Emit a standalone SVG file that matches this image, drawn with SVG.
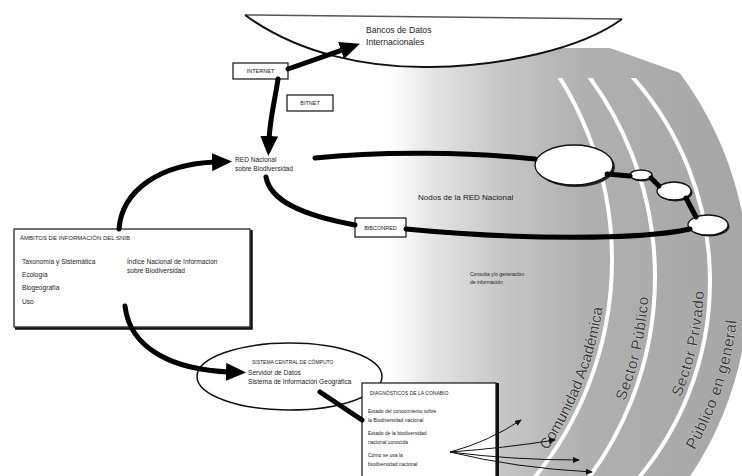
<svg xmlns="http://www.w3.org/2000/svg" width="742" height="476" viewBox="0 0 742 476">
<style>
  text { font-family: "Liberation Sans", Arial, sans-serif; fill: #1a1a1a; }
  .sm { font-size: 6.6px; }
  .xs { font-size: 5px; }
  .cap { font-size: 6px; }
  .lbl { font-size: 5.5px; text-anchor: middle; }
  .big { font-size: 8.6px; }
  .mid { font-size: 8px; }
  .arc { font-size: 15px; fill: #3c3c3c; stroke: #e8e8e8; stroke-width: 0.6px; paint-order: stroke; }
  .thick { fill: none; stroke: #000; stroke-width: 5; stroke-linecap: round; }
  .thin { fill: none; stroke: #111; stroke-width: 1; }
  .box { fill: #fff; stroke: #111; stroke-width: 1.2; }
  .node { fill: #fff; stroke: #111; stroke-width: 1.3; }
  .shadow { fill: #222; }
  .sep { fill: none; stroke: #fff; stroke-width: 4; }
</style>
<defs>
  <linearGradient id="gray" gradientUnits="userSpaceOnUse" x1="390" y1="0" x2="742" y2="0">
    <stop offset="0" stop-color="#ffffff"/>
    <stop offset="0.12" stop-color="#e4e4e4"/>
    <stop offset="0.32" stop-color="#c6c6c6"/>
    <stop offset="0.55" stop-color="#b0b0b0"/>
    <stop offset="1" stop-color="#a6a6a6"/>
  </linearGradient>
  <clipPath id="grayClip">
    <path d="M385,476 L385,48 L610,48 L742,95 L742,476 Z"/>
  </clipPath>
  <clipPath id="sepClip">
    <path d="M385,476 L385,78 L742,78 L742,476 Z"/>
  </clipPath>
  <marker id="ah" markerUnits="userSpaceOnUse" markerWidth="20" markerHeight="18" viewBox="0 0 20 18" refX="4" refY="9" orient="auto-start-reverse">
    <path d="M0,0 L20,9 L0,18 Z" fill="#000"/>
  </marker>
  <marker id="sa" markerUnits="userSpaceOnUse" markerWidth="7" markerHeight="6" viewBox="0 0 7 6" refX="6" refY="3" orient="auto">
    <path d="M0,0 L7,3 L0,6 Z" fill="#111"/>
  </marker>
  <path id="p1" d="M541.4,458.7 A338,338 0 0 0 604.7,230.5"/>
  <path id="p2" d="M618,416.9 A331,331 0 0 0 647.7,248.2"/>
  <path id="p3" d="M675.8,408.2 A301,301 0 0 0 702.9,254.8"/>
  <path id="p4" d="M687.3,462.2 A340,340 0 0 0 738.5,264.2"/>
</defs>

<!-- background shading (sectors) -->
<g id="sectors">
  <g clip-path="url(#grayClip)">
    <circle cx="399" cy="282" r="350" fill="url(#gray)"/>
  </g>
  <g clip-path="url(#sepClip)">
    <circle class="sep" cx="268" cy="260" r="344"/>
    <circle class="sep" cx="318" cy="277" r="337"/>
    <circle class="sep" cx="403" cy="281" r="307"/>
  </g>
  <text class="arc"><textPath href="#p1" startOffset="10">Comunidad Académica</textPath></text>
  <text class="arc" letter-spacing="0.8"><textPath href="#p2" startOffset="17">Sector Público</textPath></text>
  <text class="arc" letter-spacing="0.8"><textPath href="#p3" startOffset="12">Sector Privado</textPath></text>
  <text class="arc" letter-spacing="0.5" style="font-size:15.5px"><textPath href="#p4" startOffset="14">Público en general</textPath></text>
</g>

<!-- nodes -->
<g id="bancos">
  <path d="M245,15 C300,55 370,68 430,67 C500,66 580,50 622,19 Z" fill="#fff" stroke="none"/>
  <path d="M245,15 L622,19" fill="none" stroke="#555" stroke-width="1.5"/>
  <path d="M245,15 C300,55 370,68 430,67 C500,66 580,50 622,19" fill="none" stroke="#111" stroke-width="2"/>
  <text class="big" x="366" y="33">Bancos de Datos</text>
  <text class="big" x="366" y="45">Internacionales</text>
</g>

<g id="internet">
  <rect class="box" x="233" y="63" width="55" height="16"/>
  <text class="lbl" x="260.5" y="73">INTERNET</text>
</g>

<g id="bitnet">
  <rect class="box" x="287" y="95" width="46" height="16"/>
  <text class="lbl" x="310" y="105">BITNET</text>
</g>

<g id="red">
  <text class="sm" x="235" y="162">RED Nacional</text>
  <text class="sm" x="235" y="171">sobre Biodiversidad</text>
</g>

<g id="nodos">
  <text class="mid" x="418" y="200">Nodos de la RED Nacional</text>
  <ellipse class="shadow" cx="576" cy="167" rx="39" ry="20"/>
  <ellipse class="node" cx="574" cy="165" rx="39" ry="20"/>
  <ellipse class="shadow" cx="642" cy="176.5" rx="11" ry="5"/>
  <ellipse class="node" cx="641" cy="175" rx="11" ry="5"/>
  <ellipse class="shadow" cx="675.5" cy="192.5" rx="17" ry="9"/>
  <ellipse class="node" cx="674" cy="191" rx="17" ry="9"/>
  <ellipse class="shadow" cx="709.5" cy="226.5" rx="20" ry="10"/>
  <ellipse class="node" cx="708" cy="225" rx="20" ry="10"/>
</g>

<g id="bibconred">
  <rect class="box" x="355" y="218" width="51" height="19"/>
  <text class="lbl" x="380.5" y="229.5">BIBCONRED</text>
</g>

<g id="consulta">
  <text class="xs" x="470" y="276">Consulta y/o generación</text>
  <text class="xs" x="470" y="284">de información</text>
</g>

<g id="ambitos">
  <rect class="box" x="14" y="229" width="236" height="98"/>
  <path d="M251.5,230 L251.5,328.5 L15,328.5" fill="none" stroke="#111" stroke-width="2.5"/>
  <text class="cap" x="20" y="240">ÁMBITOS DE INFORMACIÓN DEL SNIB</text>
  <text class="sm" x="22" y="264">Taxonomía y Sistemática</text>
  <text class="sm" x="22" y="277">Ecología</text>
  <text class="sm" x="22" y="290">Biogeografía</text>
  <text class="sm" x="22" y="304">Uso</text>
  <text class="sm" x="127" y="264">Índice Nacional de Información</text>
  <text class="sm" x="127" y="273">sobre Biodiversidad</text>
</g>

<g id="sistema">
  <ellipse cx="289.5" cy="376.5" rx="92.5" ry="33.5" fill="#fff" stroke="#111" stroke-width="1.5"/>
  <text class="xs" x="252" y="364">SISTEMA CENTRAL DE CÓMPUTO</text>
  <text class="sm" x="248" y="375">Servidor de Datos</text>
  <text class="sm" x="248" y="384">Sistema de Información Geográfica</text>
</g>

<g id="diagnosticos">
  <rect class="box" x="362" y="383" width="134" height="100"/>
  <path d="M497.5,383 L497.5,476" fill="none" stroke="#111" stroke-width="3"/>
  <text class="xs" x="370" y="395">DIAGNÓSTICOS DE LA CONABIO</text>
  <text class="xs" x="368" y="413">Estado del conocimiento sobre</text>
  <text class="xs" x="368" y="422">la Biodiversidad nacional</text>
  <text class="xs" x="368" y="435">Estado de la biodiversidad</text>
  <text class="xs" x="368" y="444">nacional conocida</text>
  <text class="xs" x="368" y="457">Cómo se usa la</text>
  <text class="xs" x="368" y="466">biodiversidad nacional</text>
</g>

<!-- connectors -->
<g id="connectors">
  <path class="thick" d="M119,229 C122,190 160,164 216,162" marker-end="url(#ah)"/>
  <path class="thick" d="M288,69 L344.8,49.1" marker-end="url(#ah)"/>
  <path class="thick" d="M278,79 C275,100 270,118 269,140" marker-end="url(#ah)"/>
  <path class="thick" d="M125,306 C130,350 175,370 230,372" marker-end="url(#ah)"/>
  <path class="thick" d="M315,158 C380,151 470,152 535,159"/>
  <path class="thick" d="M266,177 C270,200 300,215 355,225"/>
  <path class="thick" d="M406,229 C520,240 640,240 690,229"/>
  <path class="thick" d="M607,174 L630,176"/>
  <path class="thick" d="M651,178 L659,186"/>
  <path class="thick" d="M686,198 L696,217"/>
  <path class="thick" d="M320,392 L362,420"/>
  <path class="thin" d="M450,452 Q488,442 521,420" marker-end="url(#sa)"/>
  <path class="thin" d="M450,452 Q505,448 555,440" marker-end="url(#sa)"/>
  <path class="thin" d="M450,452 Q512,460 579,460" marker-end="url(#sa)"/>
  <path class="thin" d="M450,452 Q515,468 592,472" marker-end="url(#sa)"/>
</g>
</svg>
